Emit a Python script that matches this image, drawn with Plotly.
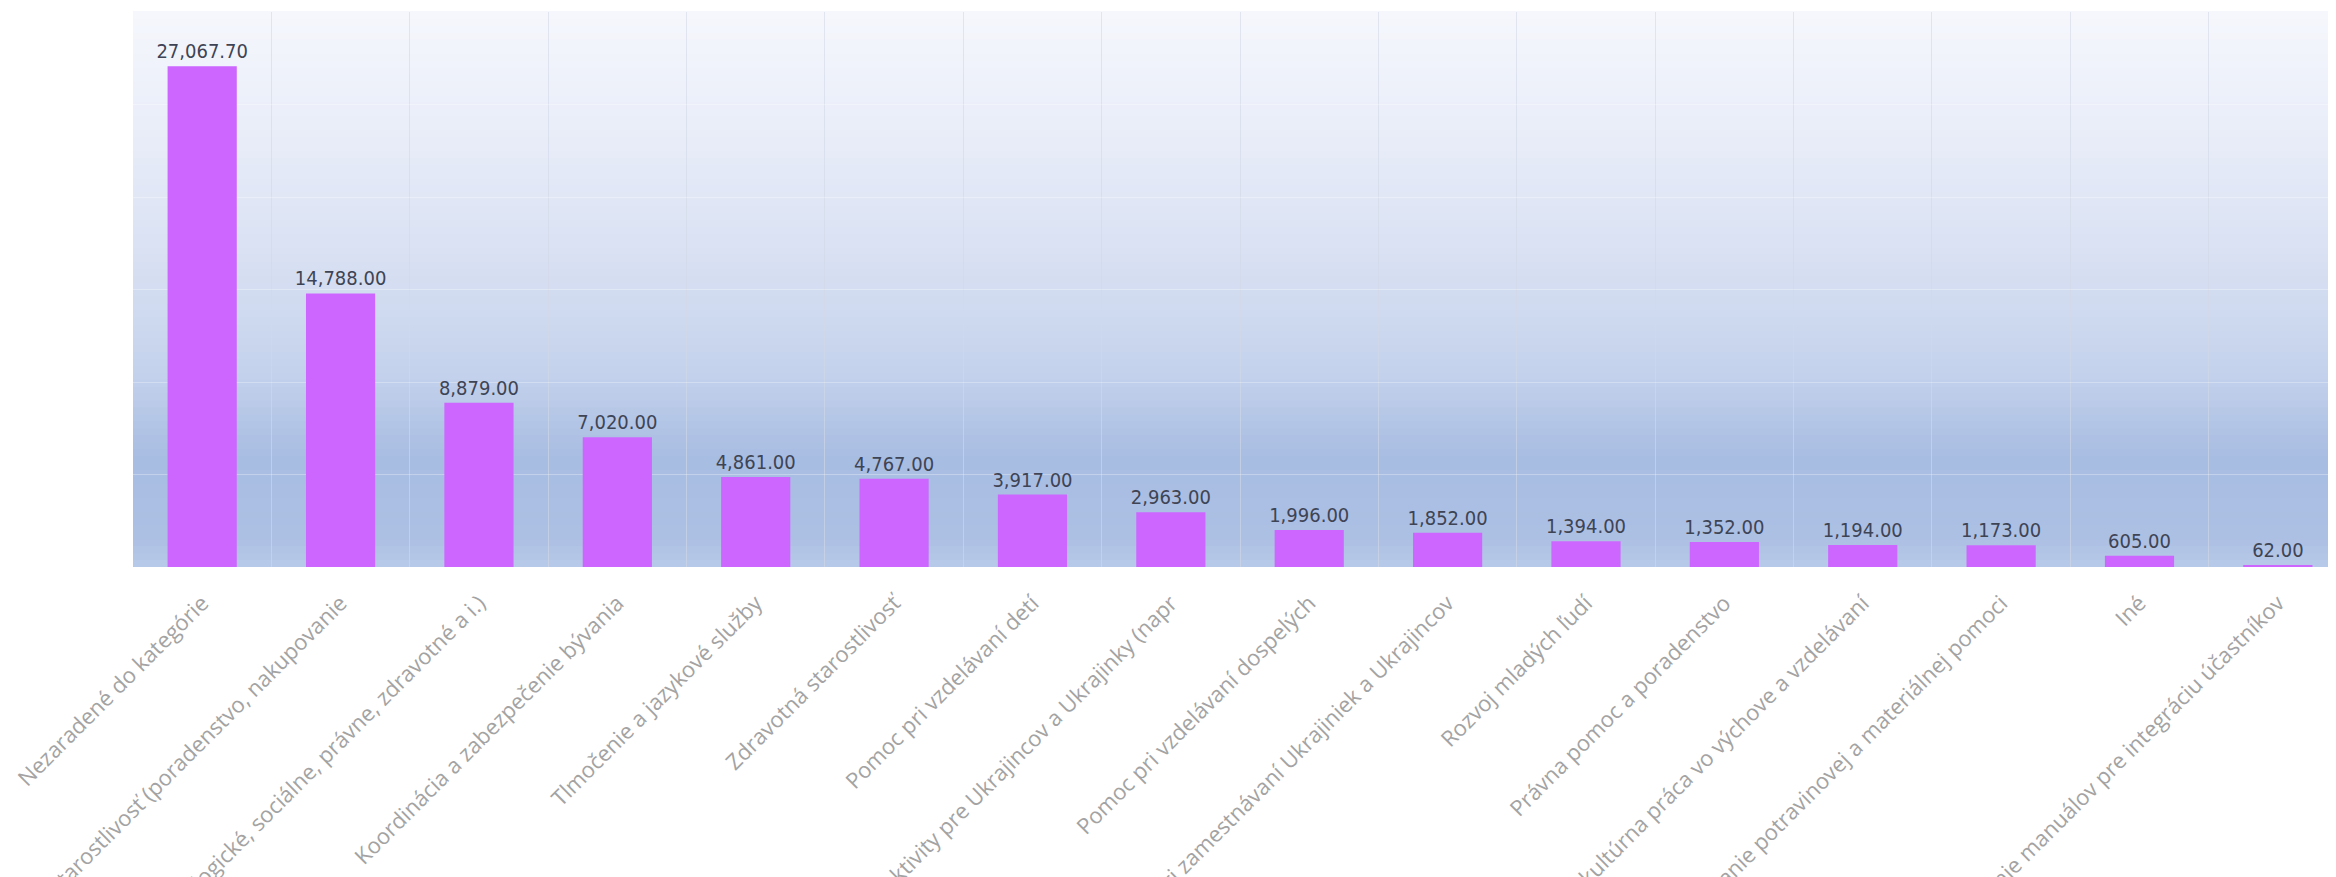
import plotly.graph_objects as go

# categories (Slovak labels) and amounts
categories = [
    "Nezaradené do kategórie",
    "Sociálna starostlivosť (poradenstvo, nakupovanie",
    "Poradenstvo (psychologické, sociálne, právne, zdravotné a i.)",
    "Koordinácia a zabezpečenie bývania",
    "Tlmočenie a jazykové služby",
    "Zdravotná starostlivosť",
    "Pomoc pri vzdelávaní detí",
    "Voľnočasové aktivity pre Ukrajincov a Ukrajinky (napr",
    "Pomoc pri vzdelávaní dospelých",
    "Pomoc pri zamestnávaní Ukrajiniek a Ukrajincov",
    "Rozvoj mladých ľudí",
    "Právna pomoc a poradenstvo",
    "Sociálna a kultúrna práca vo výchove a vzdelávaní",
    "Poskytovanie potravinovej a materiálnej pomoci",
    "Iné",
    "Tvorba a zdieľanie manuálov pre integráciu účastníkov",
]
amounts = [27067.70, 14788.00, 8879.00, 7020.00, 4861.00, 4767.00, 3917.00, 2963.00,
           1996.00, 1852.00, 1394.00, 1352.00, 1194.00, 1173.00, 605.00, 62.00]

fig = go.Figure(go.Bar(
    x=categories,
    y=amounts,
    width=0.5,
    marker=dict(color="#cc66ff", line=dict(width=0)),
    texttemplate="%{y:,.2f}",
    textposition="outside",
    constraintext="none",
    textfont=dict(family="DejaVu Sans Condensed, sans-serif",
                  size=20, color="#3e4454"),
    cliponaxis=False,
))

# vertical gradient behind the plot area, built from thin strips
stops = [(0.0, (185, 202, 232)), (0.05, (172, 192, 228)), (0.2, (168, 189, 226)),
         (0.35, (196, 210, 236)), (0.55, (216, 224, 242)), (0.8, (234, 238, 249)),
         (1.0, (245, 247, 252))]


def lerp_color(t):
    for (t0, c0), (t1, c1) in zip(stops[:-1], stops[1:]):
        if t0 <= t <= t1:
            f = (t - t0) / (t1 - t0)
            return "rgb(%d,%d,%d)" % tuple(round(a + (b - a) * f) for a, b in zip(c0, c1))
    return "rgb(%d,%d,%d)" % stops[-1][1]


n_strips = 80
for i in range(n_strips):
    y0 = i / n_strips
    y1 = (i + 1) / n_strips
    fig.add_shape(type="rect", xref="x domain", yref="y domain",
                  x0=0, x1=1, y0=y0, y1=y1 + 0.002,
                  fillcolor=lerp_color((y0 + y1) / 2), line=dict(width=0), layer="below")

fig.update_layout(
    width=2328,
    height=869,
    margin=dict(l=125, r=0, t=4, b=310),
    paper_bgcolor="white",
    plot_bgcolor="rgba(0,0,0,0)",
    showlegend=False,
    xaxis=dict(
        range=[-0.5, 15.42],
        tickangle=-45,
        tickson="boundaries",
        showgrid=True,
        gridcolor="rgba(210,216,230,0.6)",
        gridwidth=1,
        ticks="",
        ticklabelstandoff=18,
        automargin=False,
        tickfont=dict(family="Open Sans, sans-serif", size=22, color="#a3a3a3"),
        showline=False,
        zeroline=False,
    ),
    yaxis=dict(
        range=[0, 30000],
        dtick=5000,
        showticklabels=False,
        showgrid=True,
        gridcolor="rgba(255,255,255,0.3)",
        zeroline=False,
        automargin=False,
    ),
)

fig.write_html("out.html")
